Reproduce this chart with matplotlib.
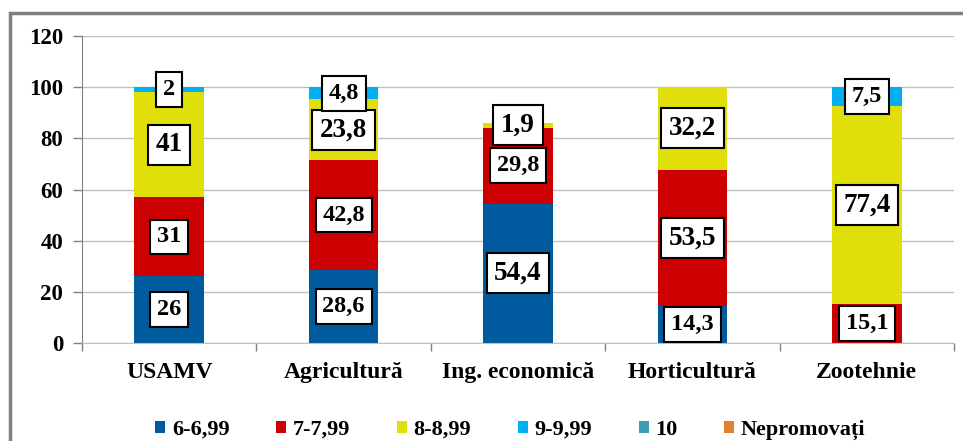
import matplotlib
matplotlib.use("Agg")
import matplotlib.pyplot as plt
import numpy as np
from matplotlib.patches import Rectangle

categories = ["USAMV", "Agricultură", "Ing. economică", "Horticultură", "Zootehnie"]
series_names = ["6-6,99", "7-7,99", "8-8,99", "9-9,99", "10", "Nepromovați"]
s1 = [26, 28.6, 54.4, 14.3, 0]
s2 = [31, 42.8, 29.8, 53.5, 15.1]
s3 = [41, 23.8, 1.9, 32.2, 77.4]
s4 = [2, 4.8, 0, 0, 7.5]
s5 = [0, 0, 0, 0, 0]
s6 = [0, 0, 0, 0, 0]
series = [s1, s2, s3, s4, s5, s6]
colors = ["#005A9E", "#CC0000", "#E0DF0A", "#00B0F0", "#3F9BB0", "#E08030"]
yticks = [0, 20, 40, 60, 80, 100, 120]

# larger label font for some segments (series index, category index)
big = {(2, 0), (2, 1), (0, 2), (1, 3), (2, 3), (2, 4), (2, 2)}

plt.rcParams['font.family'] = ['Liberation Serif', 'DejaVu Serif']
plt.rcParams['font.weight'] = 'bold'

fig = plt.figure(figsize=(9.63, 4.41), dpi=100)
ax = fig.add_axes([82 / 963, 1 - 343 / 441, 872 / 963, 307 / 441])

x = np.arange(len(categories))
bottom = np.zeros(len(categories))
for i, (vals, c, name) in enumerate(zip(series, colors, series_names)):
    vals = np.array(vals, dtype=float)
    ax.bar(x, vals, 0.4, bottom=bottom, color=c, label=name, zorder=2)
    for j, v in enumerate(vals):
        if v > 0:
            fs = 19.5 if (i, j) in big else 17.5
            ax.text(x[j], bottom[j] + v / 2, f"{v:g}".replace(".", ","),
                    ha="center", va="center", fontsize=fs, fontweight="bold",
                    zorder=5,
                    bbox=dict(boxstyle="square,pad=0.28", fc="white", ec="black", lw=1.5))
    bottom += vals

ax.set_xlim(-0.5, len(categories) - 0.5)
ax.set_ylim(0, 120)
ax.set_yticks(yticks)
ax.set_yticklabels([str(t) for t in yticks], fontsize=16.5, fontweight="bold")
ax.set_xticks(x)
ax.set_xticklabels(categories, fontsize=17, fontweight="bold")
ax.set_xticks(np.arange(len(categories) + 1) - 0.5, minor=True)
ax.tick_params(axis="x", which="major", length=0, pad=14)
ax.tick_params(axis="x", which="minor", length=5.5, color="#808080", width=1)
ax.tick_params(axis="y", length=6.5, color="#808080", width=1, pad=7)
ax.grid(axis="y", color="#BFBFBF", lw=1, zorder=0)
for s in ["top", "right"]:
    ax.spines[s].set_visible(False)
ax.spines["left"].set_color("#808080")
ax.spines["bottom"].set_color("#BFBFBF")

leg = fig.legend(loc="center", bbox_to_anchor=(0.53, 1 - 430 / 441), ncol=6, frameon=False,
                 handlelength=0.45, handleheight=0.45, handletextpad=0.3,
                 columnspacing=2.1, borderpad=0, prop=dict(weight="bold", size=16))

fig.patches.append(Rectangle((10 / 963, -0.05), 1.2, 1.05 - 13 / 441,
                             transform=fig.transFigure, fill=False, ec="#808080", lw=2.5))
fig.savefig("out.png", dpi=100)
